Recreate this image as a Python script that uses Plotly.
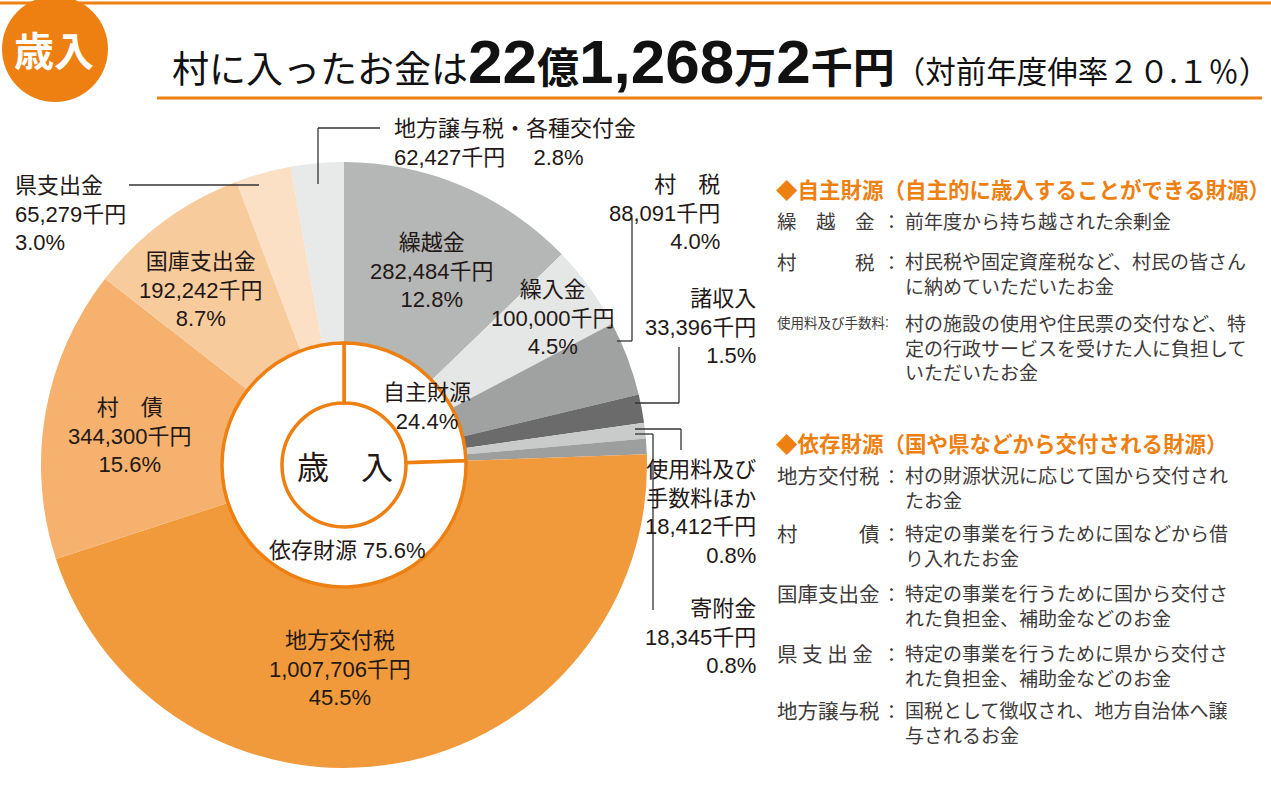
import plotly.graph_objects as go

W, H = 1271, 799

# ---------------- data ----------------
categories = ["繰越金", "繰入金", "村税", "諸収入", "使用料及び手数料ほか", "寄附金",
              "地方交付税", "村債", "国庫支出金", "県支出金", "地方譲与税・各種交付金"]
label_names = ["繰越金", "繰入金", "村　税", "諸収入", "使用料及び<br>手数料ほか", "寄附金",
               "地方交付税", "村　債", "国庫支出金", "県支出金", "地方譲与税・各種交付金"]
amounts = [282484, 100000, 88091, 33396, 18412, 18345, 1007706, 344300, 192242, 65279, 62427]
percents = [12.8, 4.5, 4.0, 1.5, 0.8, 0.8, 45.5, 15.6, 8.7, 3.0, 2.8]
groups = ["自主", "自主", "自主", "自主", "自主", "自主", "依存", "依存", "依存", "依存", "依存"]
group_labels = ["自主財源", "依存財源"]
group_percents = [24.4, 75.6]
slice_colors = ["#B5B6B6", "#E5E6E6", "#A0A1A1", "#6B6B6B", "#C9CACA", "#9D9E9E",
                "#F19A3B", "#F5B16D", "#F8CB9C", "#FBE0C5", "#E8E9E9"]

title_lead = "村に入ったお金は"
title_parts = [("22", "d"), ("億", "k"), ("1,268", "d"), ("万", "k"), ("2", "d"), ("千円", "k")]
title_tail = "（対前年度伸率２０.１％）"

ORANGE = "#EE7F11"
TXT = "#231815"
BODY = "#3E3A39"
JP = "Noto Sans CJK JP"
LAB = "Liberation Sans, Noto Sans CJK JP"


def X(px):
    return px / W


def Y(py):
    return 1 - py / H


cx, cy, R = 344, 465, 303
r_ring, r_core = 122, 62

fig = go.Figure()

fig.add_trace(go.Pie(
    values=amounts, labels=categories, sort=False, direction="clockwise", rotation=0,
    hole=r_ring / R - 0.003, marker=dict(colors=slice_colors, line=dict(width=0)),
    textinfo="none", hoverinfo="label+value+percent", showlegend=False,
    domain=dict(x=[X(cx - R), X(cx + R)], y=[Y(cy + R), Y(cy - R)]),
))

grp_values = [sum(a for a, g in zip(amounts, groups) if g == k) for k in ["自主", "依存"]]
fig.add_trace(go.Pie(
    values=grp_values, labels=group_labels, sort=False, direction="clockwise", rotation=0,
    hole=r_core / r_ring, marker=dict(colors=["#FFFFFF", "#FFFFFF"], line=dict(color=ORANGE, width=3.5)),
    textinfo="none", hoverinfo="label+percent", showlegend=False,
    domain=dict(x=[X(cx - r_ring), X(cx + r_ring)], y=[Y(cy + r_ring), Y(cy - r_ring)]),
))

ann = []
shapes = []


def text(s, x, y, size, xanchor="center", align=None, color=TXT, family=LAB):
    ann.append(dict(text=s, x=X(x), y=Y(y), xref="paper", yref="paper", showarrow=False,
                    xanchor=xanchor, yanchor="middle", align=align or xanchor,
                    font=dict(size=size, color=color, family=family)))


def line(x0, y0, x1, y1, color="#333333", w=1.3):
    shapes.append(dict(type="line", xref="paper", yref="paper", x0=X(x0), y0=Y(y0),
                       x1=X(x1), y1=Y(y1), line=dict(color=color, width=w)))


def slice_label(i, sep="<br>"):
    return f"{label_names[i]}<br>{amounts[i]:,}千円{sep}{percents[i]:.1f}%"


# pie labels
text(slice_label(0), 432, 271, 22)
text(slice_label(1), 553, 318, 22)
text(slice_label(2), 722, 213, 22, xanchor="right")
text(slice_label(3), 758, 327, 22, xanchor="right")
text(slice_label(4), 758, 512, 22, xanchor="right")
text(slice_label(5), 758, 637, 22, xanchor="right")
text(slice_label(6), 340, 669, 22)
text(slice_label(7), 130, 436, 22)
text(slice_label(8), 201, 290, 22)
text(slice_label(9), 13, 214, 22, xanchor="left")
text(slice_label(10, sep="　 "), 392, 143, 22, xanchor="left")

# inner ring labels
text(f"{group_labels[0]}<br>{group_percents[0]:.1f}%", 427, 407, 22)
text(f"{group_labels[1]} {group_percents[1]:.1f}%", 347, 550, 22)
text("歳　入", 345, 465, 32, family=JP)

# leader lines
line(129, 185, 259, 185)
line(318, 128, 380, 128)
line(318, 128, 318, 184)
line(632, 218, 632, 341)
line(617, 341, 632, 341)
line(679, 347, 679, 403)
line(635, 403, 679, 403)
line(635, 429, 681, 429)
line(681, 429, 681, 450)
line(635, 434, 653, 434)
line(653, 434, 653, 610)

# header
shapes.append(dict(type="line", xref="paper", yref="paper", x0=0, x1=1, y0=Y(3), y1=Y(3),
                   line=dict(color=ORANGE, width=3)))
shapes.append(dict(type="line", xref="paper", yref="paper", x0=X(157), x1=X(1262), y0=Y(98), y1=Y(98),
                   line=dict(color=ORANGE, width=3)))
shapes.append(dict(type="circle", xref="paper", yref="paper", x0=X(2), x1=X(108), y0=Y(102), y1=Y(-4),
                   fillcolor=ORANGE, line=dict(width=0), layer="above"))
text("<b>歳入</b>", 54, 49, 40, color="#FFFFFF", family=JP)

big = ""
for s, kind in title_parts:
    if kind == "d":
        big += f'<span style="font-family:Liberation Sans;font-size:62px;font-weight:bold">{s}</span>'
    else:
        big += f'<span style="font-size:42px;font-weight:bold">{s}</span>'
title = (f'<span style="font-size:37px">{title_lead}</span>' + big +
         f'<span style="font-size:30.5px">{title_tail}</span>')
ann.append(dict(text=title, x=X(170), y=Y(98), xref="paper", yref="paper", showarrow=False,
                xanchor="left", yanchor="bottom", font=dict(size=37, color="#111111", family=JP)))

# right side explanations
text("<b>◆自主財源（自主的に歳入することができる財源）</b>", 774, 188, 21.5, xanchor="left",
     color=ORANGE, family=JP)
text("<b>◆依存財源（国や県などから交付される財源）</b>", 774, 443, 21.5, xanchor="left",
     color=ORANGE, family=JP)

notes = [
    ("繰　越　金", 19.5, ["前年度から持ち越された余剰金"], 220),
    ("村　　　税", 19.5, ["村民税や固定資産税など、村民の皆さん", "に納めていただいたお金"], 261),
    ("使用料及び手数料", 13.5, ["村の施設の使用や住民票の交付など、特", "定の行政サービスを受けた人に負担して",
                          "いただいたお金"], 322),
    ("地方交付税", 20.5, ["村の財源状況に応じて国から交付され", "たお金"], 475),
    ("村　　　債", 20.5, ["特定の事業を行うために国などから借", "り入れたお金"], 533),
    ("国庫支出金", 20.5, ["特定の事業を行うために国から交付さ", "れた負担金、補助金などのお金"], 593),
    ("県 支 出 金", 20.5, ["特定の事業を行うために県から交付さ", "れた負担金、補助金などのお金"], 653),
    ("地方譲与税", 20.5, ["国税として徴収され、地方自治体へ譲", "与されるお金"], 710),
]
BODY_SIZE = 19
LINE_GAP = BODY_SIZE * 1.3
for lab, lsize, lines_, y0 in notes:
    text(lab, 775, y0, lsize, xanchor="left", color=BODY, family=JP)
    if lsize > 15:
        text("：", 891, y0, 19, color=BODY, family=JP)
    else:
        text(":", 887, y0, 14, color=BODY, family=LAB)
    n = len(lines_)
    yc = y0 + (n - 1) * LINE_GAP / 2
    text("<br>".join(lines_), 903, yc, BODY_SIZE, xanchor="left", color=BODY, family=JP)

fig.update_layout(
    width=W, height=H, margin=dict(l=0, r=0, t=0, b=0),
    paper_bgcolor="#FFFFFF", plot_bgcolor="#FFFFFF",
    annotations=ann, shapes=shapes, showlegend=False,
)

fig.write_html("out.html", config={"displayModeBar": False},
               post_script="document.body.style.margin='0';document.body.style.overflow='hidden';")
